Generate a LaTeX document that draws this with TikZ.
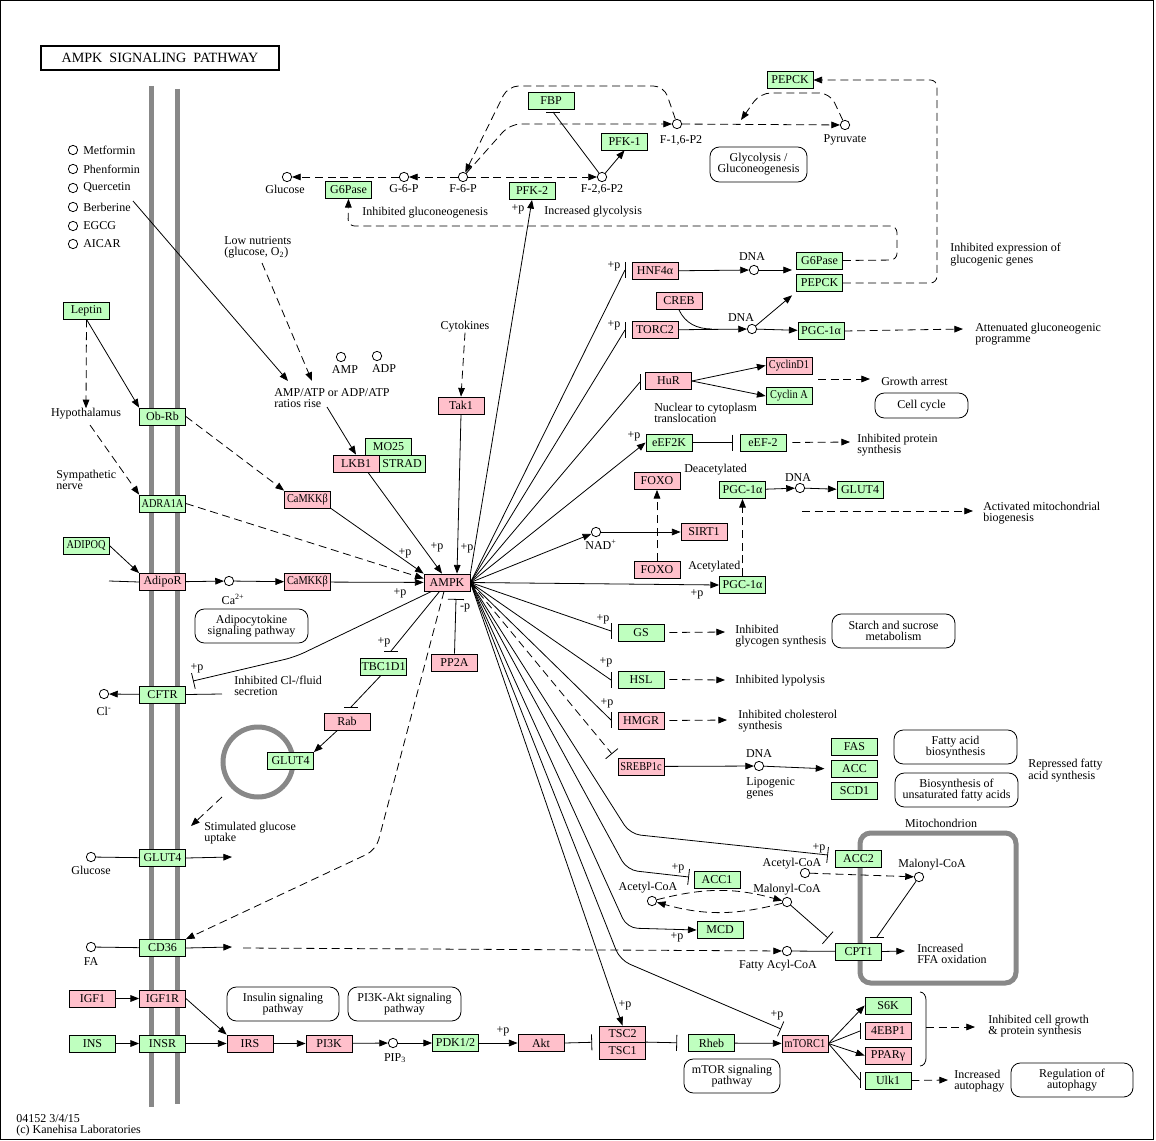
\documentclass[tikz,border=0pt]{standalone}
\usepackage{fontspec}
\setmainfont{Liberation Serif}
\newfontfamily\narrowfont[FakeStretch=0.86]{Liberation Serif}
\usetikzlibrary{arrows.meta,calc}
\definecolor{kgreen}{RGB}{191,255,191}
\definecolor{kpink}{RGB}{255,192,203}
\definecolor{kgray}{RGB}{136,136,136}
\newcommand{\kf}{\fontsize{9}{8.4}\selectfont}
\tikzset{%
  gene/.style     = {shape=rectangle, draw, line width=0.6pt, inner sep=0pt,%
                     minimum width=34.5pt, minimum height=12.75pt, font=\kf},%
  gg/.style       = {gene, fill=kgreen},%
  pg/.style       = {gene, fill=kpink},%
  narrow/.style   = {font=\narrowfont\fontsize{9}{8.4}\selectfont},%
  cpd/.style      = {circle, draw, line width=0.6pt, fill=white, inner sep=0pt, minimum size=7pt},%
  pathbox/.style  = {shape=rectangle, rounded corners=7pt, draw, line width=0.6pt,%
                     align=center, inner sep=1pt, font=\kf},%
  txt/.style      = {inner sep=0pt, anchor=west, align=left, font=\kf},%
  lbl/.style      = {inner sep=0pt, align=center, font=\kf},%
  link/.style     = {line width=0.6pt},%
  act/.style      = {link, -{Triangle[length=6.5pt,width=5pt]}},%
  inh/.style      = {link, -{Bar[width=12pt]}},%
  ind/.style      = {dash pattern=on 6pt off 3.5pt},%
  membrane/.style = {line width=3.75pt, draw=kgray}%
}

\begin{document}
\begin{tikzpicture}[x=0.75pt, y=-0.75pt]
\useasboundingbox (0,0) rectangle (1156,1141);
\draw[line width=0.75pt] (0.4,0.4) rectangle (1153,1139);
\node[draw, line width=1.6pt, minimum width=178pt, minimum height=18pt, inner sep=0pt,
      font=\fontsize{10.6}{11}\selectfont] (title) at (160,58) {AMPK\ \ SIGNALING\ \ PATHWAY};

% membranes, vesicle, mitochondrion
\draw[membrane] (151,86) -- (151,1107);
\draw[membrane] (177,89) -- (177,1104);
\draw[membrane] (258,762) circle[radius=35];
\draw[membrane, rounded corners=8pt] (860,833) rectangle (1016,983);
\node[lbl] (mito) at (941,823) {Mitochondrion};

% drugs
\foreach \yy/\dname in {150/Metformin,169/Phenformin,188/Quercetin,207/Berberine,226/EGCG,244/AICAR}{
  \node[cpd] (c-\dname) at (73,\yy) {};
  \node[txt] (t-\dname) at (83,\yy) {\dname};
}

% ---------- genes ----------
\node[gg] (leptin) at (86.5,310.5) {Leptin};
\node[gg] (obrb) at (162.5,416.5) {Ob-Rb};
\node[gg, narrow] (adra1a) at (162.5,503.5) {ADRA1A};
\node[gg, narrow] (adipoq) at (86,545.5) {ADIPOQ};
\node[pg] (adipor) at (162.5,582) {AdipoR};
\node[pg, narrow] (camkk1) at (307.5,499.5) {CaMKKβ};
\node[pg, narrow] (camkk2) at (307.5,582) {CaMKKβ};
\node[gg] (mo25) at (388.5,446.5) {MO25};
\node[pg] (lkb1) at (356,463.5) {LKB1};
\node[gg] (strad) at (402,463.5) {STRAD};
\node[pg] (tak1) at (461,405.5) {Tak1};
\node[pg] (ampk) at (447,582.5) {AMPK};
\node[pg] (pp2a) at (454.5,662.5) {PP2A};
\node[gg] (cftr) at (162.5,694.5) {CFTR};
\node[gg] (tbc1d1) at (383.5,667) {TBC1D1};
\node[pg] (rab) at (347,721.5) {Rab};
\node[gg] (glut4v) at (290.5,761) {GLUT4};
\node[gg] (glut4m) at (162.5,858) {GLUT4};
\node[gg] (cd36) at (162.5,948) {CD36};
\node[pg] (igf1) at (92.5,998.5) {IGF1};
\node[pg] (igf1r) at (162.5,998.5) {IGF1R};
\node[gg] (ins) at (92.5,1043.5) {INS};
\node[gg] (insr) at (162.5,1043.5) {INSR};
\node[pg] (irs) at (250,1043.5) {IRS};
\node[pg] (pi3k) at (329,1043.5) {PI3K};
\node[gg] (pdk) at (455.5,1043) {PDK1/2};
\node[pg] (akt) at (541,1043) {Akt};
\node[pg, minimum height=12pt] (tsc2) at (622.5,1034) {TSC2};
\node[pg] (tsc1) at (622.5,1051) {TSC1};
\node[gg] (rheb) at (711.5,1043) {Rheb};
\node[pg, narrow] (mtorc1) at (805,1043.5) {mTORC1};
\node[gg] (s6k) at (888,1005.5) {S6K};
\node[pg] (eb1) at (888,1031) {4EBP1};
\node[pg] (ppar) at (888,1055.5) {PPARγ};
\node[gg] (ulk1) at (888,1080.5) {Ulk1};

\node[gg] (g6pase1) at (348.5,190) {G6Pase};
\node[gg] (fbp) at (551,100.5) {FBP};
\node[gg] (pfk1) at (624.5,141.5) {PFK-1};
\node[gg] (pfk2) at (532,191) {PFK-2};
\node[gg] (pepck1) at (790,80) {PEPCK};
\node[pg] (hnf4a) at (655,271) {HNF4α};
\node[pg] (creb) at (679,301) {CREB};
\node[pg] (torc2) at (655,330) {TORC2};
\node[gg] (g6pase2) at (819.5,260.5) {G6Pase};
\node[gg] (pepck2) at (819.5,283) {PEPCK};
\node[gg] (pgc1) at (821,331) {PGC-1α};
\node[pg] (hur) at (668.5,381) {HuR};
\node[pg, narrow] (cycd1) at (789,365.5) {CyclinD1};
\node[gg, narrow] (cyca) at (789,396) {Cyclin A};
\node[gg] (eef2k) at (669,442.5) {eEF2K};
\node[gg] (eef2) at (763,442.5) {eEF-2};
\node[pg] (foxo1) at (657,481) {FOXO};
\node[pg] (foxo2) at (657,570) {FOXO};
\node[pg] (sirt1) at (704,532) {SIRT1};
\node[gg] (pgc2) at (742.5,490) {PGC-1α};
\node[gg] (pgc3) at (742.5,585) {PGC-1α};
\node[gg] (glut4n) at (860,490) {GLUT4};
\node[gg] (gs) at (641,632.5) {GS};
\node[gg] (hsl) at (641,679.5) {HSL};
\node[pg] (hmgr) at (641,720.5) {HMGR};
\node[pg, narrow] (srebp) at (641,766.5) {SREBP1c};
\node[gg] (fas) at (854.5,746.5) {FAS};
\node[gg] (acc) at (854.5,769) {ACC};
\node[gg] (scd1) at (854.5,791) {SCD1};
\node[gg] (acc2) at (858.5,859) {ACC2};
\node[gg] (acc1) at (717,880) {ACC1};
\node[gg] (mcd) at (720,930) {MCD};
\node[gg] (cpt1) at (858.5,951.5) {CPT1};

% ---------- compounds ----------
\node[cpd] (glc1) at (287,177) {};
\node[cpd] (g6p) at (404,177) {};
\node[cpd] (f6p) at (463,177) {};
\node[cpd] (f26p) at (602,177) {};
\node[cpd] (f16p) at (677,124) {};
\node[cpd] (pyr) at (845,125) {};
\node[cpd] (amp) at (341,357) {};
\node[cpd] (adp) at (377,356) {};
\node[cpd] (dna1) at (754,270) {};
\node[cpd] (dna2) at (752,329) {};
\node[cpd] (ca) at (229,581) {};
\node[cpd] (cl) at (104,694) {};
\node[cpd] (glc2) at (91,857) {};
\node[cpd] (fa) at (91,947) {};
\node[cpd] (pip3) at (393,1043) {};
\node[cpd] (nad) at (596,532) {};
\node[cpd] (dna3) at (800,488) {};
\node[cpd] (dna4) at (759,766) {};
\node[cpd] (acoa1) at (652,901) {};
\node[cpd] (mcoa1) at (787,902) {};
\node[cpd] (acoa2) at (805,873) {};
\node[cpd] (mcoa2) at (919,877) {};
\node[cpd] (facoa) at (787,951) {};

\node[lbl] (glc1-l) at (285,189) {Glucose};
\node[lbl] (g6p-l) at (404,189) {G-6-P};
\node[lbl] (f6p-l) at (463,189) {F-6-P};
\node[lbl] (f26p-l) at (602,189) {F-2,6-P2};
\node[lbl] (f16p-l) at (681,140) {F-1,6-P2};
\node[lbl] (pyr-l) at (845,140) {Pyruvate};
\node[lbl] (amp-l) at (345,370) {AMP};
\node[lbl] (adp-l) at (384,369) {ADP};
\node[lbl] (dna1-l) at (752,257) {DNA};
\node[lbl] (dna2-l) at (741,318) {DNA};
\node[lbl] (ca-l) at (233,599) {Ca\textsuperscript{2+}};
\node[lbl] (cl-l) at (104,711) {Cl\textsuperscript{-}};
\node[lbl] (glc2-l) at (91,870) {Glucose};
\node[lbl] (fa-l) at (91,962) {FA};
\node[lbl] (pip3-l) at (395,1058) {PIP\textsubscript{3}};
\node[lbl] (nad-l) at (601,545) {NAD\textsuperscript{+}};
\node[lbl] (dna3-l) at (798,478) {DNA};
\node[lbl] (dna4-l) at (759,754) {DNA};
\node[txt] (lipo) at (746,788.5) {Lipogenic\\genes};
\node[lbl] (acoa1-l) at (648,888) {Acetyl-CoA};
\node[lbl] (mcoa1-l) at (787,890) {Malonyl-CoA};
\node[lbl] (acoa2-l) at (792,864) {Acetyl-CoA};
\node[lbl] (mcoa2-l) at (932,865) {Malonyl-CoA};
\node[lbl] (facoa-l) at (778,966) {Fatty Acyl-CoA};

% ---------- texts ----------
\node[txt] (lown) at (224,247.5) {Low nutrients\\(glucose, O\textsubscript{2})};
\node[lbl] (cyto) at (465,327) {Cytokines};
\node[txt] (ratio) at (274,398) {AMP/ATP or ADP/ATP\\ratios rise};
\node[lbl] (hypo) at (86,414) {Hypothalamus};
\node[txt] (symp) at (56,480) {Sympathetic\\nerve};
\node[txt] (clsec) at (234,685.5) {Inhibited Cl-/fluid\\secretion};
\node[txt] (uptake) at (204,833.5) {Stimulated glucose\\uptake};
\node[txt] (igng) at (362,213) {Inhibited gluconeogenesis};
\node[txt] (iglyc) at (544,212) {Increased glycolysis};
\node[txt] (iexp) at (950,254.5) {Inhibited expression of\\glucogenic genes};
\node[txt] (attn) at (975,334.5) {Attenuated gluconeogenic\\programme};
\node[txt] (garr) at (881,381) {Growth arrest};
\node[txt] (nuc) at (654,412.5) {Nuclear to cytoplasm\\translocation};
\node[txt] (iprot) at (857,445.5) {Inhibited protein\\synthesis};
\node[txt] (deac) at (684,470) {Deacetylated};
\node[txt] (acet) at (688,567) {Acetylated};
\node[txt] (mitob) at (983,513.5) {Activated mitochondrial\\biogenesis};
\node[txt] (iglyg) at (735,636.5) {Inhibited\\glycogen synthesis};
\node[txt] (ilyp) at (735,681) {Inhibited lypolysis};
\node[txt] (ichol) at (738,721.5) {Inhibited cholesterol\\synthesis};
\node[txt] (rfas) at (1028,770.5) {Repressed fatty\\acid synthesis};
\node[txt] (iffa) at (917,953.5) {Increased\\FFA oxidation};
\node[txt] (icell) at (988,1026.5) {Inhibited cell growth\\\& protein synthesis};
\node[txt] (iauto) at (954,1081.5) {Increased\\autophagy};
\node[txt] (foot) at (16,1125) {04152 3/4/15\\(c) Kanehisa Laboratories};

% ---------- pathway maps ----------
\node[pathbox, minimum width=84.75pt, minimum height=25.5pt] (adipo) at (251.5,626) {Adipocytokine\\signaling pathway};
\node[pathbox, minimum width=72.75pt, minimum height=26.25pt] (glyco) at (758.5,164.5) {Glycolysis /\\Gluconeogenesis};
\node[pathbox, minimum width=69.75pt, minimum height=18.75pt] (ccyc) at (921.5,405.5) {Cell cycle};
\node[pathbox, minimum width=92.25pt, minimum height=25.5pt] (starch) at (893.5,631) {Starch and sucrose\\metabolism};
\node[pathbox, minimum width=92.25pt, minimum height=25.5pt] (fabio) at (955.5,747) {Fatty acid\\biosynthesis};
\node[pathbox, minimum width=92.25pt, minimum height=25.5pt] (ufa) at (956.5,790) {Biosynthesis of\\unsaturated fatty acids};
\node[pathbox, minimum width=84pt, minimum height=25.5pt] (insp) at (283,1004) {Insulin signaling\\pathway};
\node[pathbox, minimum width=84.75pt, minimum height=25.5pt] (pi3kp) at (404.5,1004) {PI3K-Akt signaling\\pathway};
\node[pathbox, minimum width=72pt, minimum height=25.5pt] (mtorp) at (732,1076) {mTOR signaling\\pathway};
\node[pathbox, minimum width=91.5pt, minimum height=25.5pt] (autop) at (1072,1080) {Regulation of\\autophagy};

% ---------- +p / -p ----------
\foreach \px/\py/\pn in {518/209/pfk2, 405/553/cam, 437/547/lkb, 467/548/tak, 400/593/cam2,
    614/266/hnf, 614/325/torc, 634/436/eef, 697/594/pgc, 603/619/gs, 606/662/hsl, 607/703/hmgr,
    819/848/acc2, 678/868/acc1, 677/937/mcd, 625/1005/tsc, 777/1015/mtor, 503/1031/akt,
    197/668/cftr, 384/642/tbc}
  \node[lbl] (p-\pn) at (\px,\py) {+p};
\node[lbl] (m-pp2a) at (465,608) {-p};

% ---------- glycolysis ----------
\draw[act, ind] (g6p) -- (glc1);
\draw[act, ind] (f6p) -- (g6p);
\draw[act, ind] (f6p) -- (f26p);
\draw[act] (f26p) -- (pfk1.south);
\coordinate (fbp-in) at (553,112);
\draw[link] (f26p) -- (fbp-in);
\draw[link] (fbp-in) ++(-7,0) -- ++(14,0);
\draw[act, ind, rounded corners=8pt] (f6p) -- (510,124) -- (f16p);
\draw[act, ind, rounded corners=8pt] (f16p) -- (664,86) -- (508,86) -- (f6p);
\draw[act, ind] (f16p) -- (pyr);
\coordinate (pyr-in) at (741,120);
\draw[act, ind, rounded corners=8pt] (pyr) -- (830,93) -- (760,93) -- (pyr-in);
\draw[act, ind, rounded corners=5pt] (pepck2.east) -- (937,283) -- (937,80) -- (pepck1.east);
\draw[act, ind, rounded corners=5pt] (g6pase2.east) -- (897,260) -- (897,226) -- (348,226) -- (g6pase1.south);

% ---------- inputs to AMPK ----------
\coordinate (drg) at (133,201);
\coordinate (ratio-in1) at (288,381);
\coordinate (lown-out) at (262,263);
\coordinate (ratio-in2) at (312,381);
\coordinate (ratio-out) at (327,407);
\draw[act] (drg) -- (ratio-in1);
\draw[act, ind] (lown-out) -- (ratio-in2);
\draw[act] (ratio-out) -- (lkb1.north);
\draw[act, ind] (cyto.south) -- (tak1.north);
\draw[act] (tak1.south) -- ($(ampk.north)+(10,0)$);
\draw[act] ($(lkb1.south)+(12,0)$) -- ($(ampk.north)+(-5,0)$);
\draw[act] (camkk1.south east) -- (ampk.north west);
\draw[act, ind] (adra1a.east) -- ($(ampk.west)+(0,-4)$);
\draw[act] (camkk2) -- (ampk);
\coordinate (pp2a-in) at (456,599);
\draw[inh] (pp2a.north) -- (pp2a-in);

\draw[act] (leptin.south) -- (obrb.north west);
\draw[act, ind] (leptin.south) -- (hypo.north);
\coordinate (hypo-out) at (90,425);
\draw[act, ind] (hypo-out) -- (adra1a.north west);
\draw[act, ind] (obrb.east) -- (camkk1.north west);
\draw[act] (adipoq.east) -- (adipor.north west);
\coordinate (adipor-stub) at (109,581);
\draw[link] (adipor-stub) -- (adipor.west);
\draw[act] (adipor) -- (ca);
\draw[act] (ca) -- (camkk2);

% ---------- left side outputs ----------
\coordinate (cftr-in) at (193,681);
\draw[inh, rounded corners=8pt] ($(ampk.south west)+(8,0)$) -- (295,657) -- (cftr-in);
\coordinate (cftr-out) at (222,694);
\draw[link] (cftr.east) -- (cftr-out);
\draw[act] (cftr) -- (cl);
\coordinate (tbc-in) at (391,651);
\draw[link] ($(ampk.south west)+(16,0)$) -- (tbc-in);
\draw[link] (tbc-in) ++(-7,0) -- ++(14,0);
\coordinate (rab-in) at (351,707);
\draw[link] ($(tbc1d1.south)+(-3,0)$) -- (rab-in);
\draw[link] (rab-in) ++(-7,0) -- ++(14,0);
\draw[act] (rab) -- (glut4v.north east);
\coordinate (ves-out) at (222,797);
\coordinate (upt-in) at (191,826);
\draw[act, ind] (ves-out) -- (upt-in);
\coordinate (glut-out) at (232,857);
\draw[link] (glc2) -- (glut4m);
\draw[act] (glut4m.east) -- (glut-out);
\coordinate (cd36-out) at (232,947);
\coordinate (cd36-dash) at (243,948);
\draw[link] (fa) -- (cd36);
\draw[act] (cd36.east) -- (cd36-out);
\draw[act, ind] (cd36-dash) -- (facoa);
\draw[act, ind, rounded corners=8pt] ($(ampk.south)+(-3,0)$) -- (376,850) -- (cd36.north east);

% ---------- insulin / mTOR ----------
\draw[act] (igf1) -- (igf1r);
\draw[act] (ins) -- (insr);
\draw[act] (insr) -- (irs);
\draw[act] (igf1r.east) -- (irs.north west);
\draw[act] (irs) -- (pi3k);
\draw[act] (pi3k) -- (pip3);
\draw[act] (pip3) -- (pdk);
\draw[act] (pdk) -- (akt);
\draw[inh, shorten >=5.25pt] (akt.east) -- (tsc1.north west);
\draw[inh, shorten >=8.25pt] (tsc1.north east) -- (rheb.west);
\draw[act] (rheb) -- (mtorc1);
\draw[act] (ampk.east) -- (tsc2.north);
\coordinate (mt-in) at (781,1029);
\draw[inh, rounded corners=8pt] (ampk.east) -- (620,960) -- (mt-in);
\draw[act] (mtorc1.east) -- (s6k.west);
\draw[act] (mtorc1.east) -- (ppar.west);
\coordinate (eb1-in) at (860,1031);
\coordinate (ulk1-in) at (860,1080);
\draw[link] (mtorc1.east) -- (eb1-in);
\draw[link] (eb1-in) ++(0,-8) -- ++(0,16);
\draw[link] (mtorc1.east) -- (ulk1-in);
\draw[link] (ulk1-in) ++(0,-8) -- ++(0,16);
\coordinate (brace) at (926,1027);
\coordinate (cell-in) at (975,1027);
\draw[link] (920,992) to[out=0,in=90] (926,1000) -- (926,1058) to[out=-90,in=0] (920,1066);
\draw[act, ind] (brace) -- (cell-in);
\coordinate (auto-in) at (948,1080);
\draw[act, ind] (ulk1.east) -- (auto-in);

% ---------- AMPK fan to the right ----------
\draw[act] (ampk.north east) -- (pfk2.south);
\coordinate (hnf-in) at (625,270);
\coordinate (torc-in) at (625,330);
\coordinate (hur-in) at (640,382);
\coordinate (gs-in) at (611,631);
\coordinate (hsl-in) at (611,680);
\coordinate (hmgr-in) at (611,720);
\foreach \tgt in {hnf-in, torc-in, hur-in, gs-in, hsl-in, hmgr-in}{
  \draw[link] (ampk.east) -- (\tgt);
  \draw[link] (\tgt) ++(0,-8) -- ++(0,16);
}
\draw[act] (ampk.east) -- (eef2k.west);
\draw[act] (ampk.east) -- (nad);
\draw[act] (ampk.east) -- (pgc3.west);
\coordinate (sreb-in) at (612,754);
\draw[inh, ind] (ampk.east) -- (sreb-in);
\coordinate (acc2-in) at (828,855);
\coordinate (acc1-in) at (689,877);
\draw[inh, rounded corners=8pt] (ampk.east) -- (630,834) -- (acc2-in);
\draw[inh, rounded corners=8pt] (ampk.east) -- (627,870) -- (acc1-in);
\draw[act, rounded corners=8pt] (ampk.east) -- (627,928) -- (mcd.west);

% ---------- gluconeogenic genes ----------
\draw[act] (hnf4a) -- (dna1);
\coordinate (g6p-in) at (792,270);
\draw[act] (dna1) -- (g6p-in);
\draw[act] (torc2) -- (dna2);
\draw[link] (creb.south) to[out=-65,in=180] (712,329);
\draw[act, shorten >=4pt] (dna2) -- (pepck2.south west);
\draw[act] (dna2) -- (pgc1);
\coordinate (attn-in) at (963,329);
\draw[act, ind] (pgc1.east) -- (attn-in);
\draw[act] (hur.east) -- (cycd1.west);
\draw[act] (hur.east) -- (cyca.west);
\coordinate (cyc-out) at (818,379);
\coordinate (garr-in) at (870,379);
\draw[act, ind] (cyc-out) -- (garr-in);
\draw[inh, shorten >=5.25pt] (eef2k) -- (eef2);
\coordinate (prot-in) at (850,442);
\draw[act, ind] ($(eef2.east)+(6,0)$) -- (prot-in);
\draw[act] (nad) -- (sirt1);
\draw[act, ind] (foxo2.north) -- (foxo1.south);
\draw[act, ind] (pgc3.north) -- (pgc2.south);
\draw[act] (pgc2) -- (dna3);
\draw[act] (dna3) -- (glut4n);
\coordinate (mitob-out) at (802,511);
\coordinate (mitob-in) at (973,511);
\draw[act, ind] (mitob-out) -- (mitob-in);
\draw[act, ind] ($(gs.east)+(5,0)$) -- (725,632);
\draw[act, ind] ($(hsl.east)+(5,0)$) -- (725,680);
\draw[act, ind] ($(hmgr.east)+(5,0)$) -- (727,720);

% ---------- lipid metabolism ----------
\draw[act] (srebp) -- (dna4);
\draw[act, shorten >=5pt] (dna4) -- (acc.west);
\draw[act, ind] (acoa1) to[bend left=15] (mcoa1);
\draw[act, ind] (mcoa1) to[bend left=15] (acoa1);
\coordinate (cpt-in1) at (828,938);
\draw[inh] (mcoa1) -- (cpt-in1);
\draw[act, ind] (acoa2) -- (mcoa2);
\coordinate (cpt-in2) at (877,937);
\draw[link] (mcoa2) -- (cpt-in2);
\draw[link] (cpt-in2) ++(-7,0) -- ++(14,0);
\draw[link] (facoa) -- (cpt1);
\coordinate (ffa-in) at (905,951);
\draw[act] (cpt1.east) -- (ffa-in);
\end{tikzpicture}
\end{document}
